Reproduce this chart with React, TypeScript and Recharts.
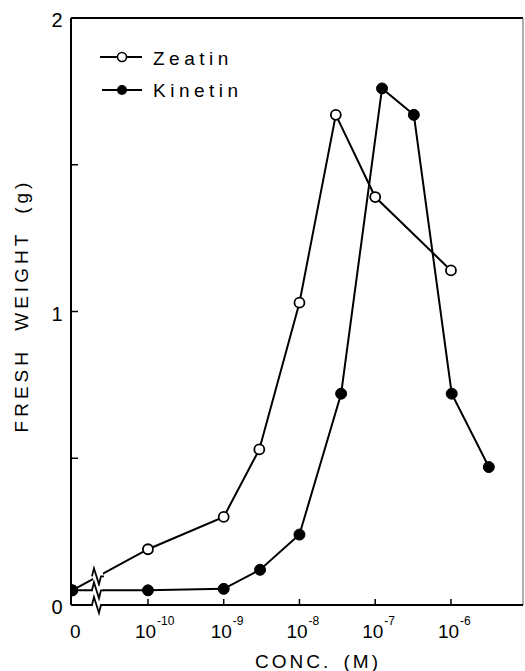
import React from 'react';
import {
  LineChart, Line, XAxis, YAxis, ReferenceLine, ReferenceDot, Legend,
} from 'recharts';

// x values are log10(conc); 0 concentration is plotted at -11 (left of the break)
const zeatinConc = [-11, -10, -9, -8.53, -8, -7.52, -7, -6];
const zeatinWeight = [0.05, 0.19, 0.3, 0.53, 1.03, 1.67, 1.39, 1.14];
const kinetinConc = [-11, -10, -9, -8.52, -8, -7.45, -6.91, -6.49, -5.99, -5.5];
const kinetinWeight = [0.05, 0.05, 0.055, 0.12, 0.24, 0.72, 1.76, 1.67, 0.72, 0.47];

const xTicks = [-11, -10, -9, -8, -7, -6];
const yTicks = [0, 0.5, 1, 1.5, 2];
const yLabels: Record<number, string> = { 0: '0', 1: '1', 2: '2' };

const X_DOMAIN: [number, number] = [-11.016, -5.049];
const BREAK_X = -10.66;
const FONT = '"Liberation Sans", Arial, sans-serif';

const zeatin = zeatinConc.map((c, i) => ({ conc: c, weight: zeatinWeight[i] }));
const kinetin = kinetinConc.map((c, i) => ({ conc: c, weight: kinetinWeight[i] }));

// where the break crosses a series: between its first two points
const breakY = (cs: number[], ws: number[]) =>
  ws[0] + ((BREAK_X - cs[0]) / (cs[1] - cs[0])) * (ws[1] - ws[0]);

const Zig = ({ cx, cy }: any) => (
  <g>
    <rect x={cx - 5} y={cy - 4} width={10} height={8} fill="#fff" />
    <path
      d={`M${cx - 6},${cy} L${cx - 4},${cy - 8} L${cx + 1},${cy + 8} L${cx + 3},${cy} L${cx + 6},${cy}`}
      fill="none" stroke="#000" strokeWidth={1.8} strokeLinejoin="miter"
    />
  </g>
);

const XTick = ({ x, y, payload }: any) => {
  const v = payload.value;
  if (v === -11) {
    return <text x={x + 3} y={y + 33} textAnchor="middle" fontSize={19} fontFamily={FONT} fill="#000">0</text>;
  }
  return (
    <g>
      <line x1={x} y1={y} x2={x} y2={y - 6} stroke="#000" strokeWidth={1.5} />
      <text x={x - 13} y={y + 33} fontSize={19} fontFamily={FONT} fill="#000">
        10<tspan dx={1} dy={-13} fontSize={12} fill="#000">{`-${-v}`}</tspan>
      </text>
    </g>
  );
};

const YTick = ({ x, y, payload }: any) => {
  const v = payload.value;
  const label = yLabels[v];
  return (
    <g>
      {v > 0 && v < 2 && <line x1={x} y1={y} x2={x + 7} y2={y} stroke="#000" strokeWidth={1.5} />}
      {label && (
        <text x={x - 14} y={y + 9} textAnchor="middle" fontSize={20} fontFamily={FONT} fill="#000">{label}</text>
      )}
    </g>
  );
};

const XTitle = ({ viewBox }: any) => (
  <text
    x={viewBox.x + viewBox.width / 2 + 21} y={viewBox.y + 63} textAnchor="middle"
    fontSize={19} fontFamily={FONT} letterSpacing={3} wordSpacing={4} fill="#000"
  >
    CONC. (M)
  </text>
);

const YTitle = ({ viewBox }: any) => {
  const cx = 21;
  const cy = viewBox.y + viewBox.height / 2 - 6;
  return (
    <text
      x={cx} y={cy} transform={`rotate(-90 ${cx} ${cy})`} textAnchor="middle" dominantBaseline="central"
      fontSize={19} fontFamily={FONT} letterSpacing={4} wordSpacing={8} fill="#000"
    >
      FRESH WEIGHT (g)
    </text>
  );
};

const LegendBox = () => (
  <svg width={200} height={70} style={{ display: 'block' }}>
    <line x1={5} y1={17} x2={47} y2={17} stroke="#000" strokeWidth={1.8} />
    <circle cx={27} cy={17} r={4.5} fill="#fff" stroke="#000" strokeWidth={1.6} />
    <text x={58} y={25} fontSize={19} fontFamily={FONT} letterSpacing={4.5}>Zeatin</text>
    <line x1={7} y1={50} x2={47} y2={50} stroke="#000" strokeWidth={1.8} />
    <circle cx={27} cy={50} r={5} fill="#000" />
    <text x={58} y={57} fontSize={19} fontFamily={FONT} letterSpacing={4.5}>Kinetin</text>
  </svg>
);

export default function App() {
  return (
    <div style={{ position: 'absolute', left: 0, top: 0, background: '#fff' }}>
      <LineChart width={525} height={671} margin={{ top: 18, right: 2, bottom: 0, left: 0 }}>
        <XAxis
          dataKey="conc" type="number" domain={X_DOMAIN} allowDataOverflow
          ticks={xTicks} tick={<XTick />} tickSize={0} tickMargin={0} tickLine={false}
          axisLine={{ stroke: '#000', strokeWidth: 2 }} height={66} interval={0}
          label={<XTitle />}
        />
        <YAxis
          type="number" domain={[0, 2]} ticks={yTicks} tick={<YTick />}
          tickSize={0} tickMargin={0} tickLine={false} width={71} interval={0}
          axisLine={{ stroke: '#000', strokeWidth: 2 }}
          label={<YTitle />}
        />
        <ReferenceLine y={2} stroke="#000" strokeWidth={2} ifOverflow="visible" />
        <ReferenceLine x={X_DOMAIN[1]} stroke="#777" strokeWidth={1.2} ifOverflow="visible" />
        <Legend
          layout="horizontal" verticalAlign="middle" align="center"
          wrapperStyle={{ left: 95, top: 40, width: 200 }}
          content={() => <LegendBox />}
        />
        <Line
          data={zeatin} dataKey="weight" name="Zeatin" stroke="#000" strokeWidth={2}
          dot={{ r: 5, fill: '#fff', stroke: '#000', strokeWidth: 1.8 }}
          isAnimationActive={false}
        />
        <Line
          data={kinetin} dataKey="weight" name="Kinetin" stroke="#000" strokeWidth={2}
          dot={{ r: 5.5, fill: '#000', stroke: '#000', strokeWidth: 1 }}
          isAnimationActive={false}
        />
        <ReferenceDot x={BREAK_X} y={breakY(zeatinConc, zeatinWeight)} shape={(p: any) => <Zig {...p} />} ifOverflow="visible" />
        <ReferenceDot x={BREAK_X} y={breakY(kinetinConc, kinetinWeight)} shape={(p: any) => <Zig {...p} />} ifOverflow="visible" />
        <ReferenceDot x={BREAK_X} y={0} shape={(p: any) => <Zig {...p} />} ifOverflow="visible" />
      </LineChart>
    </div>
  );
}
